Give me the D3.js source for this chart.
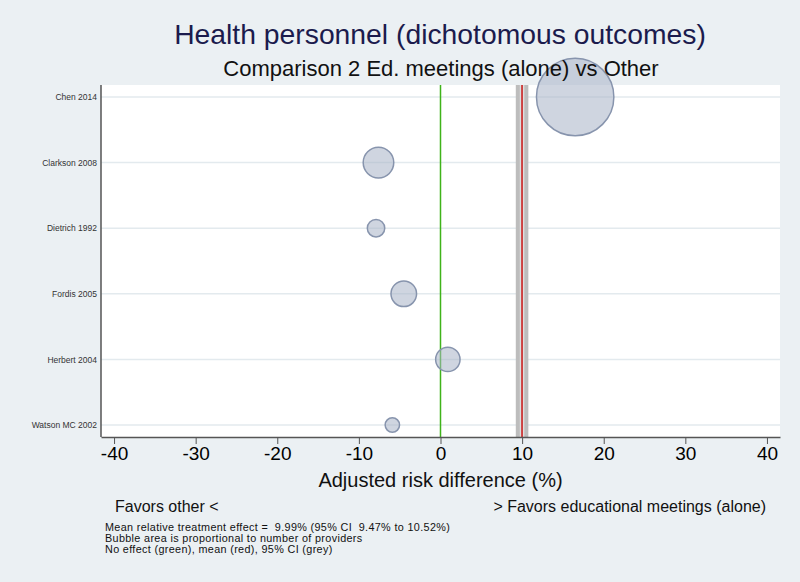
<!DOCTYPE html>
<html lang="en">
<head>
  <meta charset="UTF-8">
  <title>Health personnel (dichotomous outcomes)</title>
  <script src="https://d3js.org/d3.v7.min.js"></script>
  <style>
    body {
      margin: 0;
      background: #ebf0f3;
      font-family: 'Liberation Sans', Arial, Helvetica, sans-serif;
    }
    svg { display: block; }
    .notes text { white-space: pre; letter-spacing: 0.35px; }
  </style>
</head>
<body>
  <div id="chart"></div>

  <script>
    // study data
    const studies = ["Chen 2014", "Clarkson 2008", "Dietrich 1992", "Fordis 2005", "Herbert 2004", "Watson MC 2002"];
    const riskDiff = [16.5, -7.6, -7.9, -4.5, 0.9, -5.9];
    const providers = [1500, 234, 76, 164, 149, 52];
    const xTicks = [-40, -30, -20, -10, 0, 10, 20, 30, 40];

    const meanEffect = 9.99;
    const ciLow = 9.47;
    const ciHigh = 10.52;

    const notes = [
      "Mean relative treatment effect =  9.99% (95% CI  9.47% to 10.52%)",
      "Bubble area is proportional to number of providers",
      "No effect (green), mean (red), 95% CI (grey)"
    ];

    const width = 800, height = 582;
    const margin = { top: 85, right: 20, bottom: 145, left: 101 };
    const plotW = width - margin.left - margin.right;
    const plotH = height - margin.top - margin.bottom;

    const svg = d3.select("#chart").append("svg")
      .attr("width", width)
      .attr("height", height);

    svg.append("rect")
      .attr("width", width)
      .attr("height", height)
      .attr("fill", "#ebf0f3");

    const g = svg.append("g")
      .attr("transform", `translate(${margin.left},${margin.top})`);

    g.append("rect")
      .attr("width", plotW)
      .attr("height", plotH)
      .attr("fill", "#fff");

    const x = d3.scaleLinear().domain([-41.6, 41.6]).range([0, plotW]);
    const y = d3.scalePoint().domain(studies).range([12, plotH - 12]);
    const r = d3.scaleSqrt().domain([0, 1500]).range([0, 38.7]);

    // gridlines
    g.append("g").selectAll("line")
      .data(studies)
      .enter().append("line")
      .attr("x1", 0)
      .attr("x2", plotW)
      .attr("y1", d => y(d))
      .attr("y2", d => y(d))
      .attr("stroke", "#e3eaee")
      .attr("stroke-width", 1.5);

    // CI band, mean and no-effect lines
    g.append("rect")
      .attr("x", x(ciLow))
      .attr("width", x(ciHigh) - x(ciLow))
      .attr("y", 0)
      .attr("height", plotH)
      .attr("fill", "#dedede");

    [ciLow, ciHigh].forEach(v => {
      g.append("line")
        .attr("x1", x(v)).attr("x2", x(v))
        .attr("y1", 0).attr("y2", plotH)
        .attr("stroke", "#bdbdbd")
        .attr("stroke-width", 4);
    });

    g.append("line")
      .attr("x1", x(meanEffect)).attr("x2", x(meanEffect))
      .attr("y1", 0).attr("y2", plotH)
      .attr("stroke", "#c81414")
      .attr("stroke-width", 1.5);

    g.append("line")
      .attr("x1", x(0)).attr("x2", x(0))
      .attr("y1", 0).attr("y2", plotH)
      .attr("stroke", "#3fb31a")
      .attr("stroke-width", 1.5);

    // bubbles
    g.append("g").selectAll("circle")
      .data(studies)
      .enter().append("circle")
      .attr("cx", (d, i) => x(riskDiff[i]))
      .attr("cy", d => y(d))
      .attr("r", (d, i) => r(providers[i]))
      .attr("fill", "#a7b2c6")
      .attr("fill-opacity", 0.55)
      .attr("stroke", "#8794ad")
      .attr("stroke-width", 1.5);

    // axes
    const xAxis = g.append("g")
      .attr("transform", `translate(0,${plotH})`)
      .call(d3.axisBottom(x).tickValues(xTicks).tickFormat(d => String(d))
        .tickSize(7).tickSizeOuter(0).tickPadding(3));
    xAxis.select(".domain").attr("stroke", "#555").attr("stroke-width", 1.5);
    xAxis.selectAll(".tick line").attr("stroke", "#555");
    xAxis.selectAll(".tick text")
      .attr("font-size", 19)
      .attr("font-family", "'Liberation Sans', Arial, sans-serif")
      .attr("fill", "#000");

    const yAxis = g.append("g")
      .call(d3.axisLeft(y).tickSize(0).tickPadding(4));
    yAxis.select(".domain").attr("stroke", "#555").attr("stroke-width", 1.5)
      .attr("d", `M0,0V${plotH}`);
    yAxis.selectAll(".tick text")
      .attr("font-size", 8.5)
      .attr("font-family", "'Liberation Sans', Arial, sans-serif")
      .attr("fill", "#333");

    // titles
    svg.append("text")
      .attr("x", 440).attr("y", 44)
      .attr("text-anchor", "middle")
      .attr("font-size", 28.3)
      .attr("fill", "#1b1b4d")
      .text("Health personnel (dichotomous outcomes)");

    svg.append("text")
      .attr("x", 441).attr("y", 76)
      .attr("text-anchor", "middle")
      .attr("font-size", 22)
      .attr("fill", "#111")
      .text("Comparison 2 Ed. meetings (alone) vs Other");

    svg.append("text")
      .attr("x", margin.left + x(0)).attr("y", 487)
      .attr("text-anchor", "middle")
      .attr("font-size", 20)
      .attr("fill", "#111")
      .text("Adjusted risk difference (%)");

    svg.append("text")
      .attr("x", 115).attr("y", 512)
      .attr("font-size", 16)
      .attr("fill", "#111")
      .text("Favors other <");

    svg.append("text")
      .attr("x", 766).attr("y", 512)
      .attr("text-anchor", "end")
      .attr("font-size", 16)
      .attr("fill", "#111")
      .text("> Favors educational meetings (alone)");

    svg.append("g").attr("class", "notes").selectAll("text")
      .data(notes)
      .enter().append("text")
      .attr("x", 105)
      .attr("y", (d, i) => 531 + i * 11)
      .attr("font-size", 10.8)
      .attr("fill", "#111")
      .text(d => d);
  </script>
</body>
</html>
